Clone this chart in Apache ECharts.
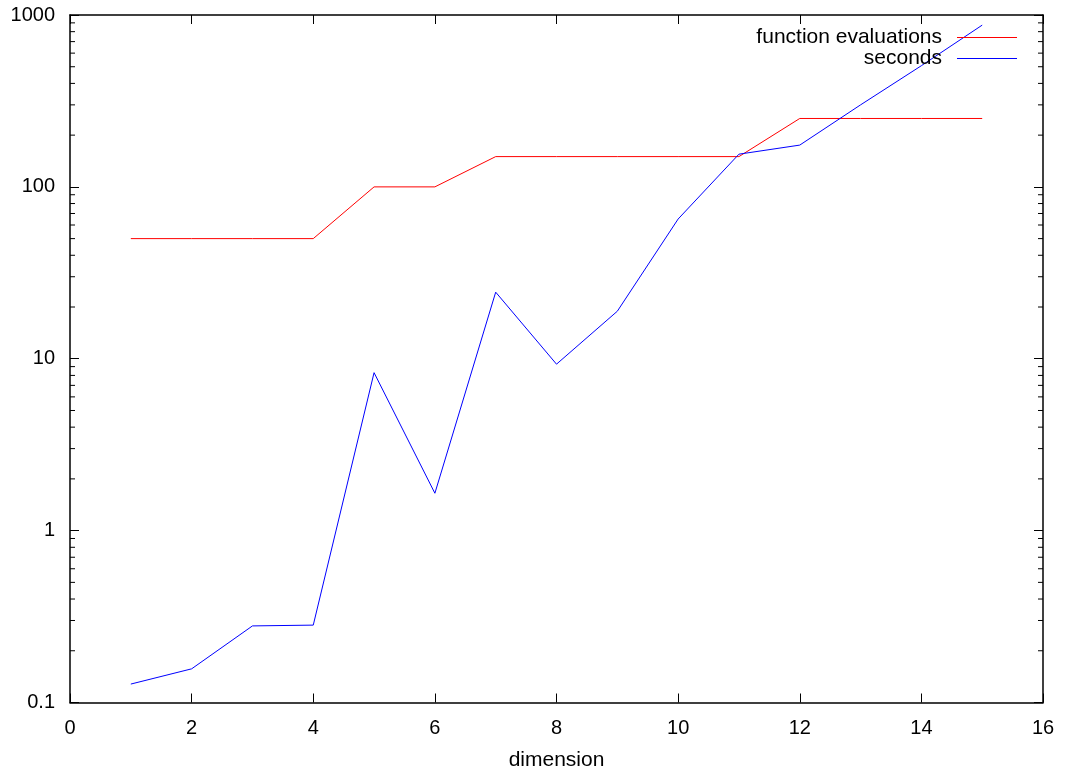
<!DOCTYPE html>
<html lang="en">
<head>
    <meta charset="UTF-8"/>
    <script src="https://cdn.jsdelivr.net/npm/echarts@6/dist/echarts.min.js"></script>
    <title>dimension chart</title>
    <style>
        html, body { margin: 0; padding: 0; background: #fff; }
        #chart { width: 1066px; height: 769px; }
    </style>
</head>
<body>
<div id="chart"></div>
<script type="text/javascript">
    // data
    var dimensions = [1, 2, 3, 4, 5, 6, 7, 8, 9, 10, 11, 12, 13, 14, 15];
    var funcEvals = [50, 50, 50, 50, 100, 100, 150, 150, 150, 150, 150, 250, 250, 250, 250];
    var seconds = [0.128, 0.157, 0.279, 0.282, 8.3, 1.65, 24.4, 9.3, 18.9, 65, 155, 175, 300, 507, 873];
    var yTickLabels = ['0.1', '1', '10', '100', '1000'];
    var decades = [0.1, 1, 10, 100];
    var minorSteps = [2, 3, 4, 5, 6, 7, 8, 9];

    var fontName = 'Liberation Sans, Arial, sans-serif';

    function pairs(xs, ys) {
        var out = [];
        for (var i = 0; i < xs.length; i++) {
            out.push([xs[i], ys[i]]);
        }
        return out;
    }

    // minor ticks of the log axis (gnuplot style 2..9 per decade)
    var minorTicks = [];
    decades.forEach(function (d) {
        minorSteps.forEach(function (m) { minorTicks.push([0, d * m]); });
    });

    var myChart = echarts.init(document.getElementById('chart'));
    var axisCommon = {
        axisLine: { show: true, onZero: false, lineStyle: { color: '#000', width: 1.5 } },
        axisTick: { show: true, inside: true, length: 9, lineStyle: { color: '#000', width: 1 } },
        splitLine: { show: false }
    };

    var option = {
        animation: false,
        backgroundColor: '#fff',
        textStyle: { fontFamily: fontName },
        grid: { left: 70, right: 23, top: 15, bottom: 66.5, containLabel: false, outerBoundsMode: 'none' },
        legend: {
            data: ['function evaluations', 'seconds'],
            orient: 'vertical',
            align: 'right',
            right: 44,
            top: 22,
            itemGap: 0,
            itemWidth: 60,
            itemHeight: 1,
            icon: 'rect',
            selectedMode: false,
            textStyle: { fontSize: 21, color: '#000', lineHeight: 21, padding: [0, 10, 0, 0], fontFamily: fontName }
        },
        xAxis: [
            Object.assign({
                type: 'value', min: 0, max: 16, interval: 2, position: 'bottom',
                name: 'dimension', nameLocation: 'middle', nameGap: 47,
                nameTextStyle: { fontSize: 21, color: '#000', fontFamily: fontName },
                axisLabel: { fontSize: 20, color: '#000', margin: 16, fontFamily: fontName }
            }, axisCommon),
            Object.assign({
                type: 'value', min: 0, max: 16, interval: 2, position: 'top',
                axisLabel: { show: false }
            }, axisCommon)
        ],
        yAxis: [
            Object.assign({
                type: 'log', logBase: 10, min: 0.1, max: 1000, position: 'left',
                axisLabel: {
                    fontSize: 20, color: '#000', margin: 15, fontFamily: fontName,
                    formatter: function (v) {
                        var idx = Math.round(Math.log10(v)) + 1;
                        return yTickLabels[idx] !== undefined ? yTickLabels[idx] : '';
                    }
                }
            }, axisCommon),
            Object.assign({
                type: 'log', logBase: 10, min: 0.1, max: 1000, position: 'right',
                axisLabel: { show: false }
            }, axisCommon)
        ],
        series: [
            {
                name: 'function evaluations',
                type: 'line',
                data: pairs(dimensions, funcEvals),
                showSymbol: false,
                symbol: 'none',
                color: '#ff0000',
                lineStyle: { color: '#ff0000', width: 1 }
            },
            {
                name: 'seconds',
                type: 'line',
                data: pairs(dimensions, seconds),
                showSymbol: false,
                symbol: 'none',
                color: '#0000ff',
                lineStyle: { color: '#0000ff', width: 1 }
            },
            {
                name: 'minor ticks',
                type: 'custom',
                silent: true,
                clip: false,
                data: minorTicks,
                renderItem: function (params, api) {
                    var v = api.value(1);
                    var l = api.coord([0, v]);
                    var r = api.coord([16, v]);
                    var style = { stroke: '#000', lineWidth: 1 };
                    return {
                        type: 'group',
                        children: [
                            { type: 'line', shape: { x1: l[0], y1: l[1], x2: l[0] + 5, y2: l[1] }, style: style },
                            { type: 'line', shape: { x1: r[0], y1: r[1], x2: r[0] - 5, y2: r[1] }, style: style }
                        ]
                    };
                }
            }
        ]
    };
    myChart.setOption(option);
</script>
</body>
</html>
